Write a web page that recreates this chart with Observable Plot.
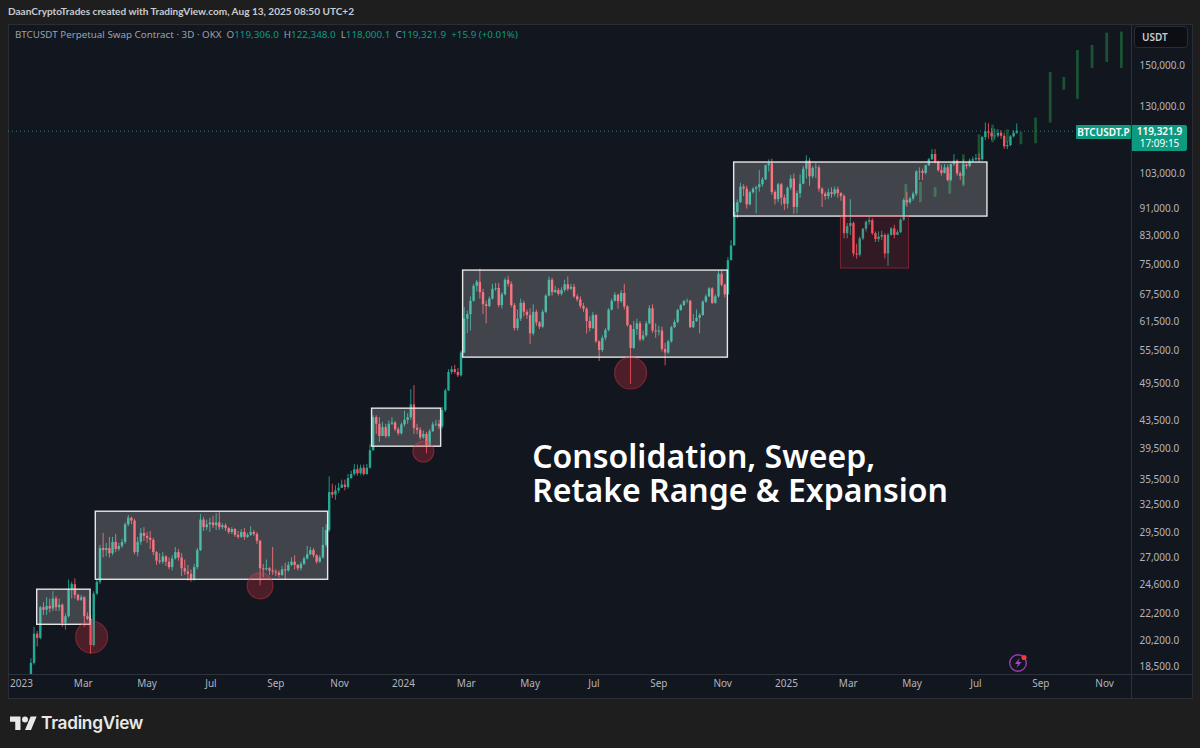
<!DOCTYPE html>
<html>
<head>
<meta charset="utf-8">
<script src="https://cdn.jsdelivr.net/npm/d3@7"></script>
<script src="https://cdn.jsdelivr.net/npm/@observablehq/plot@0.6"></script>
<style>
html,body{margin:0;padding:0;background:#1e1e1e;width:1200px;height:748px;overflow:hidden;font-family:"Noto Sans",sans-serif}
#hdr{position:absolute;left:8px;top:5px;font-family:Lato,sans-serif;font-size:10.05px;font-weight:700;color:#c9cbd1;white-space:nowrap}
#panel{position:absolute;left:8px;top:24px;width:1183px;height:673px;background:#12161f;border:1px solid #2a2d36;box-sizing:content-box}
#vsep{position:absolute;left:1131px;top:24px;width:1px;height:674px;background:#2e323c}
#hsep{position:absolute;left:8px;top:674px;width:1184px;height:1px;background:#2e323c}
#chart{position:absolute;left:0;top:24px}
#legend{position:absolute;left:15px;top:28px;font-size:9.8px;color:#9da1ac;white-space:nowrap}
#legend b{font-weight:400;color:#119a80}
#usdt{position:absolute;left:1134px;top:26px;width:54px;height:22px;box-sizing:border-box;background:#0c0e13;border:1px solid #2a2d36;border-radius:4px;color:#c9cbd1;font-size:10px;font-weight:600;line-height:20px;padding-left:7px}
.tag{position:absolute;background:#0f9a80;color:#fff;font-weight:600;font-size:10px;text-align:center;white-space:nowrap}
#logo{position:absolute;left:10px;top:712px;display:flex;align-items:center;gap:4px;color:#e8e8e8;font-family:Inter,sans-serif;font-size:17.3px;font-weight:600;letter-spacing:-.3px}
#bolt{position:absolute;left:1008px;top:653px}
</style>
</head>
<body>
<div id="panel"></div>
<div id="chart"></div>
<div id="vsep"></div>
<div id="hsep"></div>
<div id="hdr">DaanCryptoTrades created with TradingView.com, Aug 13, 2025 08:50 UTC+2</div>
<div id="legend">BTCUSDT Perpetual Swap Contract · 3D · OKX&nbsp; O<b>119,306.0</b>&nbsp; H<b>122,348.0</b>&nbsp; L<b>118,000.1</b>&nbsp; C<b>119,321.9</b>&nbsp; <b>+15.9 (+0.01%)</b></div>
<div id="usdt">USDT</div>
<svg id="bolt" width="22" height="20" viewBox="0 0 22 20"><circle cx="10" cy="10" r="8.3" fill="none" stroke="#9c3bb0" stroke-width="1.4"/><path d="M11.5 5 7 11h3l-1.5 4 5-6h-3z" fill="#a04ac0"/><circle cx="16" cy="4.5" r="2.6" fill="#f23645"/></svg>
<div id="logo"><svg width="27" height="14" viewBox="0 0 36 18.5"><path fill="#e8e8e8" d="M14 18.5H7V7.5H0V0.5h14zM28 18.5h-8L27.5 0.5h8z"/><circle fill="#e8e8e8" cx="20" cy="4.5" r="4"/></svg><span>TradingView</span></div>
<script>
// Three-day candles, price in thousands of USDT. First entry is the candle of 2023-01-07.
const firstCandle = "2023-01-07";
const closesK = [
 17.7,18.7,20.7,20.4,22.7,22.5,22.8,22.6,
 23.4,22.7,22.9,21.5,22.0,24.2,24.6,23.7,23.3,23.5,
 22.0,21.8,19.9,23.8,24.8,27.9,27.7,27.9,27.4,28.5,
 27.8,28.1,28.5,30.3,31.0,30.7,27.5,28.5,29.4,29.1,
 28.9,28.7,27.5,26.7,26.6,27.1,26.6,26.1,26.9,27.5,
 27.0,26.0,25.7,25.5,25.0,26.1,27.7,30.8,30.0,30.3,
 30.5,30.2,30.5,30.0,30.2,29.9,29.5,29.8,29.2,29.0,
 29.5,29.0,29.2,29.5,29.3,28.6,26.0,25.9,26.0,25.8,
 25.7,25.6,25.4,25.9,25.8,26.3,26.6,26.3,26.0,26.4,
 26.9,27.3,27.7,27.2,26.6,27.0,28.2,29.7,33.9,33.6,
 34.1,34.4,34.8,34.5,35.6,36.1,36.7,36.2,36.9,36.1,
 36.9,39.2,44.0,43.0,41.2,42.5,41.2,43.0,43.2,42.2,
 41.6,42.9,43.6,44.0,46.0,42.4,42.1,41.0,41.5,39.9,
 41.9,42.9,43.0,42.6,45.1,48.3,51.5,52.0,51.5,50.9,
 55.1,62.0,63.0,66.0,69.5,70.5,68.0,65.2,64.8,66.5,
 68.8,69.0,65.0,67.5,71.0,70.0,65.0,60.0,62.0,65.5,
 63.5,62.8,58.9,63.5,61.2,60.3,63.5,67.2,71.0,68.0,
 68.5,67.6,68.5,69.9,68.8,69.3,67.0,66.3,64.8,64.2,
 61.5,60.0,62.8,57.3,55.6,58.0,59.6,64.0,66.0,67.4,
 65.9,67.8,64.7,60.6,56.0,59.8,61.0,57.7,58.5,61.0,
 64.3,59.5,59.3,59.5,55.8,55.1,57.3,60.2,61.3,63.9,
 65.0,65.9,66.0,60.2,61.5,62.2,62.8,65.8,67.0,68.9,
 65.5,67.0,72.5,69.8,67.5,76.0,80.0,89.9,93.0,98.2,
 97.5,92.3,96.3,97.5,98.0,99.0,100.7,105.8,106.5,96.4,
 94.0,99.0,94.5,92.5,97.8,101.0,91.5,96.0,99.2,104.5,
 107.5,101.8,104.8,105.0,97.5,95.8,95.0,96.3,95.7,97.3,
 96.0,95.0,83.5,85.6,86.5,77.8,77.5,82.0,84.8,86.9,
 87.4,83.5,81.8,82.5,83.0,77.8,83.0,84.9,83.0,83.8,
 87.5,93.7,93.0,94.2,95.8,103.5,103.7,103.0,105.8,108.0,
 110.0,107.0,104.0,103.0,105.0,100.5,106.2,107.5,102.8,102.0,
 106.0,105.5,107.5,108.0,108.5,108.0,116.7,119.0,118.5,117.0,
 117.3,118.5,117.2,113.0,113.5,117.0,118.5,119.3219
];
const highsK = [
 17.8,19.0,21.2,20.9,22.8,23.1,23.5,23.4,
 24.0,23.6,23.4,23.0,22.2,25.0,24.8,25.1,23.8,23.7,
 23.6,22.3,22.1,24.0,25.0,28.2,29.4,28.4,29.0,29.0,
 29.3,28.4,28.8,30.5,31.3,31.1,30.9,29.0,29.9,30.0,
 29.5,29.6,28.9,27.6,27.4,27.5,27.2,27.0,27.2,28.0,
 27.8,27.4,26.8,26.3,25.9,26.4,27.9,31.4,31.1,30.8,
 31.0,31.2,31.5,31.6,30.4,30.4,30.0,30.0,29.9,29.6,
 29.8,29.9,29.4,30.1,29.7,29.5,28.7,26.4,26.8,26.1,
 28.0,25.9,25.8,26.2,26.5,26.6,27.0,27.2,26.4,26.6,
 27.1,28.1,28.0,27.9,27.3,27.2,30.0,30.3,35.8,34.9,
 34.7,35.0,35.4,35.4,36.1,36.5,37.4,37.3,37.3,37.3,
 37.4,40.0,44.3,44.3,44.0,43.3,43.0,43.5,44.0,43.4,
 42.5,43.2,45.0,44.6,48.5,49.2,43.0,42.5,42.0,41.8,
 42.2,43.3,43.6,43.6,45.6,48.6,52.0,52.6,52.8,52.2,
 55.5,64.5,63.8,67.0,70.0,71.0,73.8,68.8,66.0,67.0,
 70.0,70.2,70.2,68.0,71.5,72.0,70.6,65.5,64.0,66.5,
 66.0,64.0,64.3,65.2,64.0,61.5,64.0,67.5,71.8,71.5,
 69.5,69.0,69.2,71.0,71.8,70.0,70.0,67.5,67.0,65.5,
 64.5,62.5,63.5,63.0,57.5,58.5,60.0,64.3,66.5,68.0,
 67.6,68.5,70.0,65.0,60.8,61.5,62.0,61.5,59.5,61.5,
 65.0,65.2,61.0,60.5,60.3,57.0,57.6,60.5,61.8,64.2,
 65.3,66.2,66.5,66.2,63.0,64.0,63.2,66.1,67.5,69.2,
 69.2,67.5,73.2,73.5,70.0,76.8,81.5,93.0,93.9,99.5,
 99.0,98.5,96.8,98.0,98.6,104.0,101.5,106.0,108.0,108.3,
 97.0,99.5,99.5,95.5,98.3,102.3,102.8,96.8,102.5,105.5,
 109.5,108.5,105.5,106.5,105.8,98.0,96.5,97.5,98.0,98.2,
 98.2,96.3,95.6,86.5,94.0,87.0,80.5,82.5,85.0,87.3,
 88.3,88.0,84.0,84.0,84.2,83.5,83.5,85.3,86.0,84.5,
 88.0,94.4,96.5,94.8,96.5,104.0,105.0,104.5,106.0,108.5,
 112.0,111.9,107.5,106.0,106.2,106.0,106.5,110.0,108.0,103.5,
 108.0,106.5,108.3,109.0,110.0,110.3,117.2,122.8,122.4,120.4,
 120.2,120.0,119.5,118.5,115.0,117.5,119.5,122.348
];
const lowsK = [
 17.1,17.6,18.6,19.8,20.3,22.1,22.1,22.3,
 22.4,22.4,22.4,21.2,21.0,21.9,23.4,23.4,23.2,23.2,
 21.2,21.7,19.3,19.8,23.7,24.6,27.0,27.1,27.0,27.2,
 27.5,27.6,27.9,28.3,30.1,30.3,27.3,27.1,28.2,28.6,
 28.4,27.8,27.2,26.3,26.4,26.4,26.2,25.9,25.8,26.8,
 26.7,25.3,25.4,24.9,24.8,24.9,25.9,27.6,29.6,29.7,
 29.5,29.9,29.7,29.7,29.8,29.6,29.3,29.3,29.0,28.8,
 28.9,28.7,28.9,29.1,29.1,28.3,24.5,25.2,25.8,25.4,
 25.4,25.3,25.2,25.3,25.0,25.7,26.2,25.9,25.8,25.8,
 26.3,26.8,27.2,27.0,26.4,26.5,26.9,28.0,29.5,33.2,
 33.0,33.8,34.4,34.1,34.3,35.5,35.9,35.9,36.0,35.9,
 36.0,36.8,39.5,41.5,40.4,41.2,40.9,41.0,42.8,41.9,
 41.3,41.4,42.6,43.0,43.6,41.5,41.5,40.7,40.8,38.8,
 39.8,41.8,42.6,42.2,42.3,44.8,48.2,51.1,51.2,50.6,
 50.7,55.0,59.0,59.5,65.8,68.2,66.5,63.0,61.0,64.5,
 66.2,68.3,64.5,64.2,67.2,69.3,64.5,59.5,59.5,61.5,
 62.5,62.0,56.8,58.5,60.5,59.8,60.0,63.2,67.0,67.2,
 67.8,67.2,67.2,68.0,68.3,68.5,66.6,65.8,64.3,63.5,
 58.9,59.3,59.8,57.0,53.5,55.2,57.5,59.3,63.8,65.8,
 64.2,65.5,64.0,60.3,49.4,55.8,58.6,57.3,57.4,58.2,
 60.8,59.0,58.0,58.5,55.3,52.7,54.8,57.0,60.0,61.0,
 63.7,64.8,65.5,60.0,60.0,61.3,58.9,62.6,65.5,66.9,
 65.2,65.3,66.7,69.4,66.8,67.4,76.0,80.0,88.0,92.8,
 95.0,91.0,92.0,95.8,89.5,96.5,98.2,100.5,103.5,95.5,
 92.3,93.0,92.0,90.5,91.0,97.0,89.3,89.5,94.5,99.0,
 101.0,98.5,101.0,101.2,96.5,91.5,93.8,94.0,94.5,95.0,
 94.5,93.5,82.0,82.0,83.0,77.0,76.4,77.0,81.5,84.0,
 86.0,83.0,81.0,81.0,81.5,76.5,74.5,82.8,82.0,83.0,
 83.5,87.2,91.5,92.5,93.5,95.0,100.5,100.5,102.5,105.5,
 107.8,106.5,103.5,102.0,102.8,100.0,100.0,105.5,102.0,100.5,
 99.0,104.5,105.0,107.0,107.5,107.5,107.5,115.5,116.0,115.5,
 115.7,116.5,116.0,112.0,111.9,113.0,116.5,118.0001
];

// Dim projected bars (lower-timeframe overlay)
const ghostDates = ["2025-04-25","2025-05-09","2025-05-23","2025-06-06","2025-06-19","2025-07-04","2025-07-17","2025-07-31","2025-08-13","2025-08-27","2025-09-10","2025-09-23","2025-10-06","2025-10-20","2025-11-03","2025-11-17"];
const ghostLowK  = [92.0,93.0,94.8,95.8,98.4,106.9,114.6,114.6,113.8,114.2,122.7,137.6,133.3,148.5,151.6,148.5];
const ghostHighK = [99.1,99.8,98.0,102.6,109.9,117.8,121.9,119.9,118.8,124.9,146.4,143.9,158.0,160.8,167.9,168.5];

// Consolidation ranges
const rangeStart = ["2023-01-16","2023-03-13","2023-12-02","2024-02-27","2024-11-12"];
const rangeEnd   = ["2023-03-08","2023-10-21","2024-02-06","2024-11-06","2025-07-12"];
const rangeTop   = [24170,31710,45400,73430,106980];
const rangeBot   = [21390,25020,39770,54230,88630];

// Sweep markers
const sweepRectStart = "2025-02-22", sweepRectEnd = "2025-04-28", sweepRectTop = 88630, sweepRectBot = 73950;
const sweepDates  = ["2023-03-09","2023-08-17","2024-01-20","2024-08-05"];
const sweepPrices = [20500,24500,39100,51400];
const sweepRadius = [16,13,10.5,16];

const annotation = "Consolidation, Sweep,\nRetake Range & Expansion";
const annotationPrice = 36200;
const annotationDate = "2024-05-03";

const lastPrice = 119321.9;
const priceTicks = [150000,130000,103000,91000,83000,75000,67500,61500,55500,49500,43500,39500,35500,32500,29500,27000,24600,22200,20200,18500];
const timeTicks = ["2023-01-01","2023-03-01","2023-05-01","2023-07-01","2023-09-01","2023-11-01","2024-01-01","2024-03-01","2024-05-01","2024-07-01","2024-09-01","2024-11-01","2025-01-01","2025-03-01","2025-05-01","2025-07-01","2025-09-01","2025-11-01"];

const UP = "#22ab94", DOWN = "#f7525f";
const d0 = new Date(firstCandle + "T00:00:00Z");
const candles = closesK.map((c, i) => {
  if (i === 0) return null;
  const o = closesK[i - 1];
  return {
    date: d3.utcDay.offset(d0, 3 * i),
    o: o * 1000, c: c * 1000,
    h: Math.max(highsK[i], o, c) * 1000,
    l: Math.min(lowsK[i], o, c) * 1000
  };
}).filter(Boolean);
const col = d => d.c >= d.o ? UP : DOWN;
const ghosts = ghostDates.map((d, i) => ({date: new Date(d), l: ghostLowK[i] * 1000, h: ghostHighK[i] * 1000}));
const ranges = rangeStart.map((s, i) => ({x1: new Date(s), x2: new Date(rangeEnd[i]), y1: rangeBot[i], y2: rangeTop[i]}));
const sweeps = sweepDates.map((d, i) => ({date: new Date(d), p: sweepPrices[i], r: sweepRadius[i]}));

const chart = Plot.plot({
  width: 1200, height: 674,
  marginLeft: 8, marginRight: 69, marginTop: 0, marginBottom: 24,
  style: {background: "transparent", color: "#b2b5be", fontFamily: "'Noto Sans',sans-serif", fontSize: "10px"},
  x: {type: "utc", domain: [new Date("2022-12-19T14:00:00Z"), new Date("2025-11-26T16:00:00Z")]},
  y: {type: "log", domain: [17990, 173000]},
  r: {type: "identity"},
  marks: [
    Plot.ruleX(ghosts, {x: "date", y1: "l", y2: "h", stroke: "#1a5233", strokeWidth: 2.8, clip: true}),
    Plot.ruleY([lastPrice], {stroke: UP, strokeDasharray: "1,3", strokeOpacity: .75}),
    Plot.ruleX(candles, {x: "date", y1: "l", y2: "h", stroke: col, strokeWidth: 1, strokeOpacity: .85, clip: true}),
    Plot.ruleX(candles, {x: "date", y1: "o", y2: "c", stroke: col, strokeWidth: 2.4, clip: true}),
    Plot.rect(ranges, {x1: "x1", x2: "x2", y1: "y1", y2: "y2", fill: "#fff", fillOpacity: .2, stroke: "#e6e6e6", strokeWidth: 1.4}),
    Plot.rect([{x1: new Date(sweepRectStart), x2: new Date(sweepRectEnd), y1: sweepRectBot, y2: sweepRectTop}], {x1: "x1", x2: "x2", y1: "y1", y2: "y2", fill: "#f23645", fillOpacity: .14, stroke: "#f23645", strokeOpacity: .45}),
    Plot.dot(sweeps, {x: "date", y: "p", r: "r", fill: "#f23645", fillOpacity: .26, stroke: "#f23645", strokeOpacity: .4, strokeWidth: 1.2}),
    Plot.text([annotation], {x: () => new Date(annotationDate), y: () => annotationPrice, text: d => d, textAnchor: "start", lineAnchor: "middle", lineHeight: 1.0625, fill: "#fff", fontSize: 32, fontWeight: 600, fontFamily: "'Noto Sans',sans-serif"}),
    Plot.axisY({anchor: "right", ticks: priceTicks, tickFormat: d3.format(",.1f"), tickSize: 0, tickPadding: 8, label: null, textAnchor: "start", fontSize: 10}),
    Plot.axisX({anchor: "bottom", ticks: timeTicks.map(d => new Date(d)), tickFormat: d => d.getUTCMonth() === 0 ? String(d.getUTCFullYear()) : d3.utcFormat("%b")(d), tickSize: 0, tickPadding: 5, label: null, fontSize: 10})
  ]
});
document.getElementById("chart").appendChild(chart);

// Price tags follow the chart's own y scale
const yLast = chart.scale("y").apply(lastPrice) + 25;
const tag1 = document.createElement("div");
tag1.className = "tag"; tag1.textContent = "BTCUSDT.P";
tag1.style.cssText = `left:1076px;top:${yLast - 7}px;width:55px;height:14px;line-height:14px;border-radius:1px`;
const tag2 = document.createElement("div");
tag2.className = "tag"; tag2.innerHTML = "119,321.9<br><span style='font-weight:400'>17:09:15</span>";
tag2.style.cssText = `left:1132px;top:${yLast - 7}px;width:55px;height:26px;line-height:12.5px;border-radius:0 2px 2px 0`;
document.body.append(tag1, tag2);
</script>
</body>
</html>
